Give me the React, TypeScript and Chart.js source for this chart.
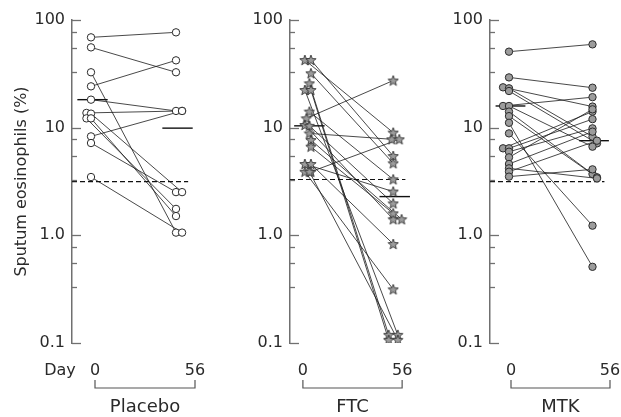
import React, { useEffect, useRef } from 'react';
import { Chart, registerables } from 'chart.js';

Chart.register(...registerables);

// ---------- data ----------
const days = [0, 56];
const yTickValues = [0.1, 1, 10, 100];
const yTickLabels = ['0.1', '1.0', '10', '100'];
const yMinorTicks = [0.33, 0.55, 0.78, 3.3, 5.5, 7.8, 33, 55, 78];
const groupNames = ['Placebo', 'FTC', 'MTK'];
const dayLabel = 'Day';
const yTitle = 'Sputum eosinophils (%)';

// Placebo: sputum eosinophils (%) at day 0 and day 56 per subject
const placeboDay0 = [69.0, 55.7, 32.7, 24.2, 18.2, 13.7, 8.3, 7.2, 3.48, 13.5, 12.2, 12.2];
const placeboDay56 = [76.8, 32.7, 1.06, 42.2, 14.3, 14.3, 14.3, 2.52, 1.06, 2.52, 1.76, 1.51];
const placeboJitter0 = [0, 0, 0, 0, 0, -3, 0, 0, 0, 0, -3, 0];
const placeboJitter56 = [0, 0, 0, 0, 0, 4, 4, 0, 4, 4, 0, 0];

// FTC
const ftcDay0 = [42.5, 42.5, 32.0, 25.8, 22.4, 22.4, 14.1, 12.2, 10.6, 10.4, 8.85, 7.68, 6.66, 4.6, 4.6, 3.9, 3.9, 3.9];
const ftcDay56 = [9.0, 5.45, 4.67, 0.119, 0.119, 0.107, 3.31, 27.4, 1.41, 1.98, 7.8, 1.41, 1.6, 2.55, 0.83, 7.8, 0.315, 0.107];
const ftcJitter0 = [-2, 2, 2, 1, -2, 2, 1, -1, -2, 1, 1, 2, 2, -2, 2, 2, -2, 1];
const ftcJitter56 = [0, 0, 0, -3, 3, -3, 0, 0, 0, 0, -1, 5.5, 0, 0, 0, 4, 0, 3];

// MTK
const mtkDay0 = [50.8, 29.3, 23.7, 23.2, 21.9, 15.9, 15.9, 14.1, 12.8, 11.1, 8.85, 6.43, 6.43, 5.98, 5.3, 4.6, 4.19, 3.9, 3.51];
const mtkDay56 = [59.4, 23.5, 15.7, 8.25, 7.15, 19.2, 6.66, 3.71, 3.46, 0.51, 1.23, 14.1, 12.0, 9.86, 14.8, 9.18, 3.38, 7.57, 4.1];
const mtkJitter0 = [0, 0, -4, 0, 0, -4, 0, 0, 0, 0, 0, -4, 0, 0, 0, 0, 0, 0, 0];
const mtkJitter56 = [0, 0, 0, 0, 3, 0, 0, 0, 3, 0, 0, 0, 0, 0, 0, 0, 3, 3, 0];

// medians [day 0, day 56] and dashed normal limit per group
const placeboMedian = [18.2, 9.9];
const ftcMedian = [10.4, 2.29];
const mtkMedian = [15.9, 7.57];
const normalLimit = [3.15, 3.3, 3.15];

// ---------- layout / style ----------
const FONT = "'DejaVu Sans', sans-serif";
const TEXT = '#2a2a2a';
const AXIS = '#707070';
const H = 417;
const TOP = 20;
const BOTTOM_PAD = 74;

type Panel = {
  left: number; width: number; axisWidth: number; padRight: number;
  day0Px: number; day56Px: number; bracket0Px: number; bracket56Px: number;
  start: number[]; end: number[]; j0: number[]; j56: number[];
  median: number[]; normal: number; name: string; showTitle: boolean; showDay: boolean;
  marker: 'open' | 'star' | 'grey';
};

const panels: Panel[] = [
  { left: 0, width: 210, axisWidth: 72, padRight: 5, day0Px: 91, day56Px: 176, bracket0Px: 95, bracket56Px: 195,
    start: placeboDay0, end: placeboDay56, j0: placeboJitter0, j56: placeboJitter56, median: placeboMedian,
    normal: normalLimit[0], name: groupNames[0], showTitle: true, showDay: true, marker: 'open' },
  { left: 230, width: 195, axisWidth: 60, padRight: 5, day0Px: 308, day56Px: 394, bracket0Px: 303, bracket56Px: 403,
    start: ftcDay0, end: ftcDay56, j0: ftcJitter0, j56: ftcJitter56, median: ftcMedian,
    normal: normalLimit[1], name: groupNames[1], showTitle: false, showDay: false, marker: 'star' },
  { left: 430, width: 191, axisWidth: 60, padRight: 5, day0Px: 509, day56Px: 592.5, bracket0Px: 511, bracket56Px: 610,
    start: mtkDay0, end: mtkDay56, j0: mtkJitter0, j56: mtkJitter56, median: mtkMedian,
    normal: normalLimit[2], name: groupNames[2], showTitle: false, showDay: false, marker: 'grey' },
];

function makeStar(): HTMLCanvasElement {
  const size = 12;
  const c = document.createElement('canvas');
  c.width = size;
  c.height = size;
  const ctx = c.getContext('2d')!;
  const cx = size / 2, cy = size / 2 + 0.4, ro = 5.4, ri = 2.3;
  ctx.beginPath();
  for (let i = 0; i < 10; i++) {
    const r = i % 2 === 0 ? ro : ri;
    const a = -Math.PI / 2 + (i * Math.PI) / 5;
    const px = cx + r * Math.cos(a), py = cy + r * Math.sin(a);
    if (i === 0) ctx.moveTo(px, py); else ctx.lineTo(px, py);
  }
  ctx.closePath();
  ctx.fillStyle = '#9c9c9c';
  ctx.fill();
  ctx.strokeStyle = '#333';
  ctx.lineWidth = 0.9;
  ctx.stroke();
  return c;
}

function buildConfig(p: Panel, star: HTMLCanvasElement): any {
  const axisPx = p.left + p.axisWidth;
  const rightPx = p.left + p.width - p.padRight;
  const k = (p.day56Px - p.day0Px) / (days[1] - days[0]);
  const xMin = days[0] - (p.day0Px - axisPx) / k;
  const xMax = days[0] + (rightPx - p.day0Px) / k;
  const kb = (p.bracket56Px - p.bracket0Px) / (days[1] - days[0]);
  const xbMin = days[0] - (p.bracket0Px - axisPx) / kb;
  const xbMax = days[0] + (rightPx - p.bracket0Px) / kb;

  const datasets: any[] = [];
  const pts: any[] = [];
  p.start.forEach((v, i) => {
    pts.push({ x: days[0] + p.j0[i], y: v });
    pts.push({ x: days[1] + p.j56[i], y: p.end[i] });
  });
  datasets.push({
    data: pts,
    showLine: false,
    order: 0,
    pointStyle: p.marker === 'star' ? star : 'circle',
    pointRadius: p.marker === 'star' ? 5 : 3.7,
    pointBackgroundColor: p.marker === 'open' ? '#ffffff' : '#9c9c9c',
    pointBorderColor: '#2a2a2a',
    pointBorderWidth: 1,
  });
  p.start.forEach((v, i) => {
    datasets.push({
      data: [{ x: days[0] + p.j0[i], y: v }, { x: days[1] + p.j56[i], y: p.end[i] }],
      showLine: true,
      order: 3,
      borderColor: '#1a1a1a',
      borderWidth: 0.8,
      pointRadius: 0,
    });
  });
  const medSpan = [-9, 11];
  days.forEach((d, i) => {
    datasets.push({
      data: [{ x: d + medSpan[0], y: p.median[i] }, { x: d + medSpan[1], y: p.median[i] }],
      showLine: true,
      order: 2,
      borderColor: '#111',
      borderWidth: 1.4,
      pointRadius: 0,
    });
  });
  datasets.push({
    data: [{ x: xMin, y: p.normal }, { x: days[1] + 8, y: p.normal }],
    showLine: true,
    order: 2,
    borderColor: '#111',
    borderWidth: 1.2,
    borderDash: [5, 3],
    pointRadius: 0,
  });

  const decorPlugin = {
    id: 'decor' + p.name,
    afterDraw(chart: any) {
      const ctx = chart.ctx;
      const y = chart.scales.y;
      const xb = chart.scales.xb;
      const ca = chart.chartArea;
      ctx.save();
      ctx.strokeStyle = AXIS;
      ctx.lineWidth = 1.3;
      yTickValues.forEach((v) => {
        const py = Math.round(y.getPixelForValue(v)) + 0.5;
        ctx.beginPath();
        ctx.moveTo(ca.left, py);
        ctx.lineTo(ca.left + 9, py);
        ctx.stroke();
      });
      yMinorTicks.forEach((v) => {
        const py = Math.round(y.getPixelForValue(v)) + 0.5;
        ctx.beginPath();
        ctx.moveTo(ca.left, py);
        ctx.lineTo(ca.left + 5, py);
        ctx.stroke();
      });
      const b0 = xb.getPixelForValue(days[0]);
      const b1 = xb.getPixelForValue(days[1]);
      const by = ca.bottom + 45;
      ctx.strokeStyle = '#555';
      ctx.lineWidth = 1.2;
      ctx.beginPath();
      ctx.moveTo(b0, by - 8);
      ctx.lineTo(b0, by);
      ctx.lineTo(b1, by);
      ctx.lineTo(b1, by - 8);
      ctx.stroke();
      ctx.fillStyle = TEXT;
      ctx.textBaseline = 'middle';
      ctx.textAlign = 'center';
      ctx.font = `16px ${FONT}`;
      ctx.fillText(String(days[0]), b0, ca.bottom + 28);
      ctx.fillText(String(days[1]), b1, ca.bottom + 28);
      if (p.showDay) {
        ctx.fillText(dayLabel, b0 - 35, ca.bottom + 28);
      }
      ctx.font = `18px ${FONT}`;
      ctx.fillText(p.name, (b0 + b1) / 2, ca.bottom + 64);
      ctx.restore();
    },
  };

  return {
    type: 'scatter',
    data: { datasets },
    plugins: [decorPlugin],
    options: {
      animation: false,
      responsive: false,
      events: [],
      layout: { padding: { top: TOP, bottom: BOTTOM_PAD, left: 0, right: p.padRight } },
      plugins: { legend: { display: false }, tooltip: { enabled: false } },
      scales: {
        x: { type: 'linear', display: false, min: xMin, max: xMax },
        xb: { type: 'linear', axis: 'x', display: false, min: xbMin, max: xbMax },
        y: {
          type: 'logarithmic',
          min: 0.1,
          max: 100,
          position: 'left',
          afterBuildTicks: (s: any) => {
            s.ticks = yTickValues.map((v) => ({ value: v }));
          },
          afterFit: (s: any) => {
            s.width = p.axisWidth;
          },
          ticks: {
            padding: 7,
            color: TEXT,
            font: { family: FONT, size: 16 },
            callback: (v: number) => {
              const idx = yTickValues.findIndex((t) => Math.abs(t - v) < 1e-9);
              return idx >= 0 ? yTickLabels[idx] : '';
            },
          },
          grid: { display: false, drawTicks: false },
          border: { display: true, color: AXIS, width: 1.5 },
          title: {
            display: p.showTitle,
            text: yTitle,
            color: TEXT,
            font: { family: FONT, size: 16 },
            padding: { top: 12, bottom: 4 },
          },
        },
      },
    },
  };
}

export default function App() {
  const refs = [useRef<HTMLCanvasElement>(null), useRef<HTMLCanvasElement>(null), useRef<HTMLCanvasElement>(null)];

  useEffect(() => {
    const star = makeStar();
    const charts = panels.map((p, i) => new Chart(refs[i].current as HTMLCanvasElement, buildConfig(p, star)));
    return () => charts.forEach((c) => c.destroy());
  }, []);

  return (
    <div style={{ position: 'absolute', left: 0, top: 0, width: 621, height: H, background: '#fff', overflow: 'hidden' }}>
      {panels.map((p, i) => (
        <canvas
          key={p.name}
          ref={refs[i]}
          width={p.width}
          height={H}
          style={{ position: 'absolute', left: p.left, top: 0, width: p.width, height: H }}
        />
      ))}
    </div>
  );
}
